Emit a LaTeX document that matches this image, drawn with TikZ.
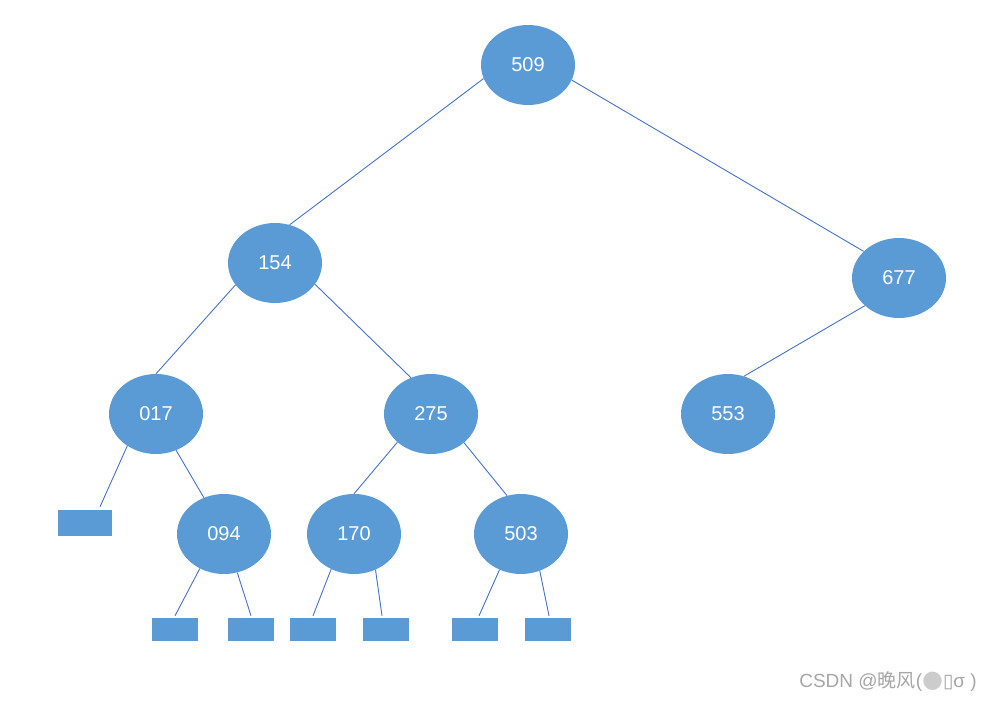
\documentclass[tikz,border=0pt]{standalone}
\usepackage{fontspec}
\setmainfont{Liberation Sans}
\newfontfamily\cjkfont{Noto Sans CJK SC}
\newfontfamily\symfont{DejaVu Sans}
\usetikzlibrary{shapes.geometric}
\definecolor{keyblue}{HTML}{5B9BD5}
\definecolor{linkblue}{HTML}{4472C4}
\tikzset{
  keynode/.style={ellipse, fill=keyblue, text=white, inner sep=0pt,
    minimum width=94pt, minimum height=80pt, font=\fontsize{20}{24}\selectfont},
  leafbox/.style={rectangle, fill=keyblue, inner sep=0pt,
    minimum width=46pt, minimum height=23pt},
  link/.style={draw=linkblue, line width=0.9pt}
}
\begin{document}
\begin{tikzpicture}[x=1pt, y=-1pt]
    \useasboundingbox (0,0) rectangle (991,701);

    % Knoten
    \node[keynode] (k509) at (528,65) {509};
    \node[keynode] (k154) at (275,263) {154};
    \node[keynode] (k677) at (899,278) {677};
    \node[keynode] (k017) at (156,414) {017};
    \node[keynode] (k275) at (431,414) {275};
    \node[keynode] (k553) at (728,414) {553};
    \node[keynode] (k094) at (224,534) {094};
    \node[keynode] (k170) at (354,534) {170};
    \node[keynode] (k503) at (521,534) {503};

    % Blaetter
    \node[leafbox, minimum width=54pt, minimum height=26pt] (leafA) at (85,523) {};
    \node[leafbox] (leafB) at (175,629.5) {};
    \node[leafbox] (leafC) at (251,629.5) {};
    \node[leafbox] (leafD) at (313,629.5) {};
    \node[leafbox] (leafE) at (386,629.5) {};
    \node[leafbox] (leafF) at (475,629.5) {};
    \node[leafbox] (leafG) at (548,629.5) {};

    % Kanten
    \draw[link] (k509.197) -- (k154.69);
    \draw[link] (k509.341) -- (k677.143);
    \draw[link] (k154.209) -- (k017.north);
    \draw[link] (k154.332) -- (k275.119);
    \draw[link] (k677.219) -- (k553.67);
    \draw[link] (k017.228) -- ([xshift=15pt,yshift=3pt]leafA.north);
    \draw[link] (k017.299) -- (k094.119);
    \draw[link] (k275.220) -- (k170.north);
    \draw[link] (k275.319) -- (k503.110);
    \draw[link] (k094.235) -- ([yshift=2pt]leafB.north);
    \draw[link] (k094.289) -- ([yshift=2pt]leafC.north);
    \draw[link] (k170.237) -- ([yshift=2pt]leafD.north);
    \draw[link] (k170.301) -- ([xshift=-4pt,yshift=2pt]leafE.north);
    \draw[link] (k503.239) -- ([xshift=4pt,yshift=2pt]leafF.north);
    \draw[link] (k503.297) -- ([xshift=1pt,yshift=2pt]leafG.north);

    % Wasserzeichen
    \node[anchor=east, text=black!35, inner sep=0pt, font=\fontsize{19}{21}\selectfont] (mark) at (977,681)
        {CSDN @{\cjkfont 晚风}({\symfont\fontsize{24}{24}\selectfont\color{black!20}●}{\symfont ▯}σ )};
\end{tikzpicture}
\end{document}
